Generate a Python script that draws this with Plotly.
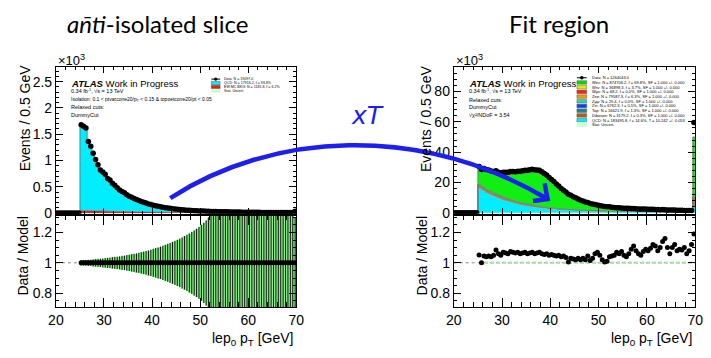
import plotly.graph_objects as go

W, H = 711, 358
def fx(p): return p / W
def fy(p): return 1 - p / H

BIN_LO, BIN_W = 20.0, 0.5
N_EMPTY = 10  # empty bins 20-25 GeV

# ---------------- left panel (anti-isolated slice), units of 10^3 events
left_data = [
    1.68, 1.65, 1.62, 1.36, 1.27, 1.14, 1.02, 0.92, 0.82, 0.78,
    0.74, 0.66, 0.63, 0.57, 0.53, 0.48, 0.44, 0.41, 0.385, 0.35,
    0.32, 0.30, 0.28, 0.26, 0.24, 0.22, 0.205, 0.19, 0.175, 0.162,
    0.15, 0.14, 0.13, 0.12, 0.112, 0.104, 0.097, 0.09, 0.084, 0.078,
    0.073, 0.068, 0.064, 0.06, 0.056, 0.053, 0.05, 0.047, 0.044, 0.042,
    0.04, 0.038, 0.036, 0.034, 0.032, 0.031, 0.029, 0.028, 0.027, 0.026,
    0.025, 0.024, 0.023, 0.022, 0.021, 0.02, 0.019, 0.018, 0.0175, 0.017,
    0.016, 0.0155, 0.015, 0.0145, 0.014, 0.0135, 0.013, 0.0125, 0.012, 0.0118,
    0.0115, 0.011, 0.0108, 0.0105, 0.0102, 0.01, 0.0098, 0.0096, 0.0094, 0.035,
]
left_ew = [
    0.05, 0.049, 0.048, 0.046, 0.045, 0.044, 0.042, 0.041, 0.04, 0.038,
    0.037, 0.036, 0.034, 0.033, 0.032, 0.031, 0.03, 0.029, 0.028, 0.027,
    0.026, 0.025, 0.024, 0.023, 0.022, 0.021, 0.02, 0.019, 0.018, 0.017,
    0.016, 0.015, 0.014, 0.013, 0.012, 0.011, 0.011, 0.01, 0.01, 0.009,
    0.009, 0.008, 0.008, 0.007, 0.007, 0.007, 0.006, 0.006, 0.006, 0.005,
    0.005, 0.005, 0.005, 0.005, 0.004, 0.004, 0.004, 0.004, 0.004, 0.004,
    0.003, 0.003, 0.003, 0.003, 0.003, 0.003, 0.003, 0.003, 0.003, 0.003,
    0.003, 0.003, 0.003, 0.003, 0.003, 0.002, 0.002, 0.002, 0.002, 0.002,
    0.002, 0.002, 0.002, 0.002, 0.002, 0.002, 0.002, 0.002, 0.002, 0.004,
]
left_sigma = [
    0.017, 0.018, 0.019, 0.02, 0.021, 0.023, 0.024, 0.026, 0.028, 0.029,
    0.031, 0.033, 0.035, 0.037, 0.039, 0.041, 0.043, 0.046, 0.048, 0.051,
    0.054, 0.057, 0.06, 0.063, 0.066, 0.07, 0.074, 0.078, 0.082, 0.087,
    0.092, 0.097, 0.102, 0.107, 0.113, 0.119, 0.125, 0.131, 0.138, 0.145,
    0.152, 0.16, 0.168, 0.176, 0.185, 0.194, 0.204, 0.214, 0.225, 0.236,
    0.25, 0.265, 0.28, 0.3, 0.32, 0.34, 0.36, 0.38, 0.40, 0.42,
    0.44, 0.46, 0.48, 0.5, 0.52, 0.54, 0.56, 0.58, 0.6, 0.62,
    0.64, 0.66, 0.68, 0.7, 0.72, 0.74, 0.76, 0.78, 0.8, 0.82,
    0.84, 0.86, 0.88, 0.9, 0.92, 0.94, 0.96, 0.98, 1.0, 0.3,
]

# ---------------- right panel (fit region), units of 10^3 events
right_qcd = [
    16.0, 15.0, 14.0, 13.1, 12.3, 11.5, 10.8, 10.1, 9.5, 8.9,
    8.3, 7.8, 7.3, 6.8, 6.4, 6.0, 5.6, 5.2, 4.9, 4.6,
    4.3, 4.0, 3.75, 3.5, 3.3, 3.1, 2.9, 2.7, 2.55, 2.4,
    2.25, 2.1, 2.0, 1.9, 1.8, 1.7, 1.6, 1.52, 1.44, 1.36,
    1.3, 1.24, 1.18, 1.12, 1.07, 1.02, 0.97, 0.93, 0.89, 0.85,
    0.81, 0.78, 0.75, 0.72, 0.69, 0.66, 0.64, 0.62, 0.6, 0.58,
    0.56, 0.54, 0.52, 0.5, 0.48, 0.47, 0.46, 0.45, 0.44, 0.43,
    0.42, 0.41, 0.4, 0.39, 0.38, 0.37, 0.36, 0.35, 0.34, 0.33,
    0.32, 0.31, 0.3, 0.29, 0.28, 0.27, 0.26, 0.25, 0.24, 4.0,
]
right_other = [
    2.4, 2.35, 2.3, 2.25, 2.2, 2.15, 2.1, 2.05, 2.0, 1.95,
    1.9, 1.85, 1.8, 1.75, 1.7, 1.65, 1.6, 1.55, 1.5, 1.45,
    1.4, 1.35, 1.3, 1.25, 1.2, 1.15, 1.1, 1.05, 1.0, 0.97,
    0.94, 0.91, 0.88, 0.85, 0.82, 0.79, 0.76, 0.73, 0.7, 0.68,
    0.66, 0.64, 0.62, 0.6, 0.58, 0.56, 0.54, 0.52, 0.5, 0.49,
    0.48, 0.47, 0.46, 0.45, 0.44, 0.43, 0.42, 0.41, 0.4, 0.39,
    0.38, 0.37, 0.36, 0.35, 0.34, 0.33, 0.32, 0.31, 0.3, 0.3,
    0.29, 0.29, 0.28, 0.28, 0.27, 0.27, 0.26, 0.26, 0.25, 0.25,
    0.24, 0.24, 0.23, 0.23, 0.22, 0.22, 0.21, 0.21, 0.2, 6.0,
]
right_w = [
    10.6, 11.15, 11.6, 12.15, 12.5, 12.85, 13.1, 13.45, 13.8, 14.25,
    14.8, 15.45, 16.1, 16.75, 17.3, 17.85, 18.5, 19.15, 19.7, 20.25,
    20.8, 21.35, 21.75, 22.05, 22.1, 21.95, 21.5, 20.85, 19.95, 18.83,
    17.71, 16.59, 15.32, 14.05, 12.88, 11.81, 10.84, 9.95, 9.06, 8.36,
    7.74, 7.02, 6.4, 5.88, 5.35, 4.92, 4.54, 4.2, 3.81, 3.46,
    3.26, 3.1, 2.99, 2.83, 2.65, 2.46, 2.34, 2.17, 2.1, 2.03,
    2.01, 1.97, 1.9, 1.83, 1.76, 1.7, 1.67, 1.64, 1.6, 1.52,
    1.49, 1.45, 1.4, 1.36, 1.34, 1.28, 1.24, 1.19, 1.17, 1.14,
    1.12, 1.07, 1.07, 1.04, 1.0, 0.97, 0.93, 0.89, 0.86, 40.0,
]
right_ratio = [
    1.052, 1.0, 1.045, 1.04, 1.045, 1.04, 1.05, 1.085, 1.06, 1.05,
    1.07, 1.065, 1.06, 1.075, 1.07, 1.065, 1.07, 1.06, 1.065, 1.07,
    1.06, 1.065, 1.07, 1.06, 1.065, 1.07, 1.06, 1.055, 1.06, 1.05,
    1.055, 1.05, 1.045, 1.05, 1.04, 1.045, 1.035, 1.005, 1.03, 1.025,
    1.02, 1.03, 1.02, 1.03, 1.02, 1.045, 1.015, 1.03, 1.06, 1.07,
    1.05, 1.02, 1.005, 1.01, 1.04, 1.045, 1.05, 1.07, 1.06, 1.075,
    1.05, 1.04, 1.06, 1.09, 1.11, 1.08, 1.06, 1.05, 1.075, 1.09,
    1.08, 1.095, 1.12, 1.11, 1.08, 1.1, 1.14, 1.16, 1.1, 1.06,
    1.1, 1.12, 1.08, 1.09, 1.085, 1.1, 1.06, 1.08, 1.12, 1.19,
]

left_legend = ["Data: N = 19097.0", "QCD: N = 17916.2, f = 93.8%",
               "EW MC BKG: N = 1181.8, f = 6.2%", "Stat. Uncert."]
right_legend = [
    "Data: N = 1264043.0",
    "Weν: N = 874706.2, f = 69.8%, SF = 1.000 +/- 0.000",
    "Wτν: N = 36898.3, f = 3.7%, SF = 1.000 +/- 0.000",
    "Wμν: N = 68.2, f = 0.0%, SF = 1.000 +/- 0.000",
    "Zee: N = 79587.3, f = 6.3%, SF = 1.000 +/- 0.000",
    "Zμμ: N = 29.4, f = 0.0%, SF = 1.000 +/- 0.000",
    "Zττ: N = 6762.3, f = 0.5%, SF = 1.000 +/- 0.000",
    "Top: N = 16621.9, f = 1.3%, SF = 1.000 +/- 0.000",
    "Diboson: N = 3179.2, f = 0.3%, SF = 1.000 +/- 0.000",
    "QCD: N = 183495.8, f = 14.6%, T = 10.242 +/- 0.053",
    "Stat. Uncert.",
]
right_legend_colors = [None, "#00e000", "#e8e800", "#ff2020", "#f0a000", "#30d8a8",
                       "#1040ff", "#208888", "#b06020", "#00eeff", "#ccffcc"]

CYAN = "#00eeff"
GREEN = "#11ee11"
RED = "#e02020"
BROWN = "#a8844f"
FONT = "Liberation Sans, Arial, sans-serif"

n_full = N_EMPTY + len(left_data)
centers = [BIN_LO + BIN_W * (i + 0.5) for i in range(n_full)]
fc = centers[N_EMPTY:]

def steps(vals):
    xs, ys = [], []
    for i, v in enumerate(vals):
        x0 = BIN_LO + BIN_W * i
        xs += [x0, x0 + BIN_W]
        ys += [v, v]
    return xs, ys

zeros = [0.0] * N_EMPTY
L_data = zeros + left_data
L_ew = zeros + left_ew
L_qcd = [d - e for d, e in zip(L_data, L_ew)]
L_model = [e + q for e, q in zip(L_ew, L_qcd)]

R_q = zeros + right_qcd
R_qo = [a + b for a, b in zip(R_q, zeros + right_other)]
R_tot = [a + b for a, b in zip(R_qo, zeros + right_w)]
R_data = zeros + [t * r for t, r in zip(R_tot[N_EMPTY:], right_ratio)]

fig = go.Figure()

# left top
xs, ys = steps(L_ew)
fig.add_trace(go.Scatter(x=xs, y=ys, mode="lines", fill="tozeroy", fillcolor=RED,
                         line=dict(color=RED, width=0.5), xaxis="x", yaxis="y"))
xs, ys = steps(L_model)
fig.add_trace(go.Scatter(x=xs, y=ys, mode="lines", fill="tonexty", fillcolor=CYAN,
                         line=dict(color="#555555", width=0.7), xaxis="x", yaxis="y"))
fig.add_trace(go.Scatter(x=centers, y=L_data, mode="markers",
                         marker=dict(color="black", size=5.5), xaxis="x", yaxis="y"))

# left ratio
fig.add_trace(go.Scatter(x=[20, 70], y=[1, 1], mode="lines",
                         line=dict(color="#888888", width=1, dash="dot"), xaxis="x2", yaxis="y2"))
fig.add_trace(go.Bar(x=fc, y=[2 * s for s in left_sigma], base=[1 - s for s in left_sigma],
                     width=BIN_W, marker=dict(color="#88f088", line=dict(width=0)),
                     xaxis="x2", yaxis="y2"))
fig.add_trace(go.Scatter(x=fc, y=[d / m for d, m in zip(left_data, L_model[N_EMPTY:])],
                         mode="markers",
                         error_y=dict(type="data", array=left_sigma, color="black",
                                      thickness=0.9, width=0),
                         marker=dict(color="black", size=5), xaxis="x2", yaxis="y2"))

# right top
xs, ys = steps(R_q)
fig.add_trace(go.Scatter(x=xs, y=ys, mode="lines", fill="tozeroy", fillcolor=CYAN,
                         line=dict(color=CYAN, width=0.5), xaxis="x3", yaxis="y3"))
xs, ys = steps(R_qo)
fig.add_trace(go.Scatter(x=xs, y=ys, mode="lines", fill="tonexty", fillcolor=BROWN,
                         line=dict(color="#808080", width=1.2), xaxis="x3", yaxis="y3"))
xs, ys = steps(R_tot)
fig.add_trace(go.Scatter(x=xs, y=ys, mode="lines", fill="tonexty", fillcolor=GREEN,
                         line=dict(color="#555555", width=0.7), xaxis="x3", yaxis="y3"))
fig.add_trace(go.Scatter(x=centers, y=R_data, mode="markers",
                         marker=dict(color="black", size=5.5), xaxis="x3", yaxis="y3"))

# right ratio
fig.add_trace(go.Scatter(x=[20, 70], y=[1, 1], mode="lines",
                         line=dict(color="#888888", width=1, dash="dot"), xaxis="x4", yaxis="y4"))
fig.add_trace(go.Scatter(x=fc, y=[1] * len(fc), mode="lines",
                         line=dict(color="#a0f0a0", width=2.5, dash="dot"), xaxis="x4", yaxis="y4"))
fig.add_trace(go.Scatter(x=fc, y=right_ratio, mode="markers",
                         marker=dict(color="black", size=5), xaxis="x4", yaxis="y4"))

tickfont = dict(family=FONT, size=14, color="black")

def xax(dom, anchor, labels, tl, mtl):
    return dict(domain=dom, anchor=anchor, range=[20, 70], tick0=20, dtick=10,
                ticks="inside", ticklen=tl, tickwidth=1, tickcolor="black",
                minor=dict(ticks="inside", ticklen=mtl, dtick=2, tickcolor="black", tickwidth=1),
                showticklabels=labels, tickfont=tickfont, showline=True, linecolor="black",
                linewidth=1, mirror="ticks", showgrid=False, zeroline=False, fixedrange=True)

def yax(dom, anchor, rng, t0, dt, mdt):
    return dict(domain=dom, anchor=anchor, range=rng, tick0=t0, dtick=dt,
                ticks="inside", ticklen=7, tickwidth=1, tickcolor="black",
                minor=dict(ticks="inside", ticklen=3.5, dtick=mdt, tickcolor="black", tickwidth=1),
                tickfont=tickfont, showline=True, linecolor="black", linewidth=1,
                mirror="ticks", showgrid=False, zeroline=False, fixedrange=True)

LX = [fx(49), fx(295)]
RX = [fx(456), fx(703)]
TOPY = [fy(218), fy(68)]
BOTY = [fy(313), fy(220)]

shapes = []
annotations = []

def text(x, y, s, size, anchor="left", color="black", angle=0, family=FONT, yanchor="middle"):
    annotations.append(dict(x=fx(x), y=fy(y), xref="paper", yref="paper", text=s,
                            showarrow=False, xanchor=anchor, yanchor=yanchor, textangle=angle,
                            font=dict(family=family, size=size, color=color)))

def box(x0, y0, x1, y1, color, line="black"):
    shapes.append(dict(type="rect", xref="paper", yref="paper", x0=fx(x0), x1=fx(x1),
                       y0=fy(y1), y1=fy(y0), fillcolor=color, line=dict(color=line, width=0.4)))

# titles
text(153, 24, "<i>an̄ti</i>-isolated slice", 24, anchor="center", family="Lato, sans-serif")
text(564, 24, "Fit region", 24, anchor="center", family="Lato, sans-serif")

# axis titles
for x0, xr in ((17, 295), (427, 703)):
    text(x0, 121, "Events / 0.5 GeV", 14, anchor="center", angle=-90)
    text(x0 - 2 if x0 == 17 else x0 - 4, 261, "Data / Model", 14, anchor="center", angle=-90)
    text(xr, 346, "lep<sub>0</sub> p<sub>T</sub> [GeV]", 14, anchor="right")
text(49, 61, "×10<sup>3</sup>", 13)
text(456, 61, "×10<sup>3</sup>", 13)

# ATLAS labels
text(62, 85, "<b><i>ATLAS</i></b> Work in Progress", 9.5)
text(62, 93, "0.34 fb<sup>-1</sup>, √s = 13 TeV", 5.5)
text(62, 101.5, "Isolation: 0.1 < ptvarcone20/p<sub>T</sub> < 0.15 & topoetcone20/pt < 0.05", 5)
text(62, 109, "Relaxed cuts:", 5.5)
text(62, 117, "DummyCut", 5.5)
text(470, 85, "<b><i>ATLAS</i></b> Work in Progress", 9.5)
text(470, 93, "0.34 fb<sup>-1</sup>, √s = 13 TeV", 5.5)
text(470, 101.5, "Relaxed cuts:", 5.5)
text(470, 109, "DummyCut", 5.5)
text(470, 117, "√χ²/NDoF = 3.54", 5.5)

# left legend
lcols = [None, CYAN, RED, "#ccffcc"]
for i, (lab, col) in enumerate(zip(left_legend, lcols)):
    y = 80.7 + 4 * i
    if col is None:
        shapes.append(dict(type="line", xref="paper", yref="paper", x0=fx(208), x1=fx(217),
                           y0=fy(y), y1=fy(y), line=dict(color="black", width=1)))
        shapes.append(dict(type="circle", xref="paper", yref="paper", x0=fx(210.8), x1=fx(214.2),
                           y0=fy(y + 1.7), y1=fy(y - 1.7), fillcolor="black", line=dict(width=0)))
    else:
        box(208, y - 1.6, 217, y + 1.6, col, line="#333333" if col != "#ccffcc" else "#ccffcc")
    text(219, y, lab, 3.6)

# right legend
for i, (lab, col) in enumerate(zip(right_legend, right_legend_colors)):
    y = 79.3 + 4.8 * i
    if col is None:
        shapes.append(dict(type="line", xref="paper", yref="paper", x0=fx(582), x1=fx(592),
                           y0=fy(y), y1=fy(y), line=dict(color="black", width=1)))
        shapes.append(dict(type="circle", xref="paper", yref="paper", x0=fx(585.2), x1=fx(588.8),
                           y0=fy(y + 1.8), y1=fy(y - 1.8), fillcolor="black", line=dict(width=0)))
    else:
        box(582, y - 1.8, 592, y + 1.8, col, line="#444444" if col != "#ccffcc" else "#ccffcc")
    text(595, y, lab, 4.0)

# blue arrow
BLUE = "#1e1ef0"
p = lambda x, y: f"{fx(x)},{fy(y)}"
shapes.append(dict(type="path", xref="paper", yref="paper", layer="above",
                   path=f"M {p(166, 202)} C {p(270, 135)} {p(420, 125)} {p(552, 203)}",
                   line=dict(color=BLUE, width=4.5)))
shapes.append(dict(type="path", xref="paper", yref="paper", layer="above",
                   path=f"M {p(549, 187)} L {p(552, 203)} L {p(537, 205)}",
                   line=dict(color=BLUE, width=4.5)))
text(368, 118, "<i>xT</i>", 25, anchor="center", color=BLUE, family="DejaVu Sans, sans-serif")

fig.update_layout(
    width=W, height=H, margin=dict(l=0, r=0, t=0, b=0),
    paper_bgcolor="white", plot_bgcolor="white", showlegend=False,
    barmode="overlay", bargap=0,
    xaxis=xax(LX, "y", False, 6, 3),
    yaxis=yax(TOPY, "x", [-0.012, 2.785], 0, 0.5, 0.1),
    xaxis2=xax(LX, "y2", True, 9, 4.5),
    yaxis2=yax(BOTY, "x2", [0.71, 1.31], 0.8, 0.2, 0.05),
    xaxis3=xax(RX, "y3", False, 6, 3),
    yaxis3=yax(TOPY, "x3", [-0.6, 96.4], 0, 20, 4),
    xaxis4=xax(RX, "y4", True, 9, 4.5),
    yaxis4=yax(BOTY, "x4", [0.71, 1.31], 0.8, 0.2, 0.05),
    shapes=shapes, annotations=annotations,
)

fig.write_html("out.html")
